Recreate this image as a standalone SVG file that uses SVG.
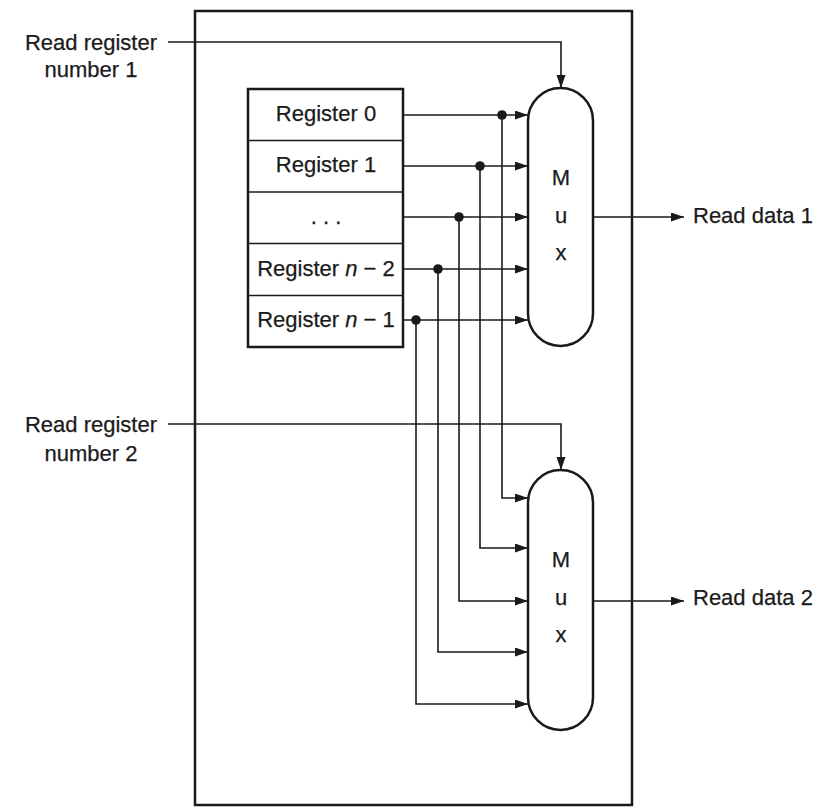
<svg xmlns="http://www.w3.org/2000/svg" width="833" height="807" viewBox="0 0 833 807">
<style>
text{font-family:"Liberation Sans",Arial,sans-serif;font-size:22px;fill:#1a1a1a;stroke:#1a1a1a;stroke-width:0.25}
.c{text-anchor:middle}
.box{fill:#fff;stroke:#1a1a1a;stroke-width:2.5}
.w{fill:none;stroke:#1a1a1a;stroke-width:1.6}
.a{marker-end:url(#ah)}
.dot{fill:#1a1a1a}
</style>
<defs>
<marker id="ah" markerUnits="userSpaceOnUse" markerWidth="14" markerHeight="10" refX="13" refY="4.5" orient="auto">
<path d="M0,0 L13,4.5 L0,9 z" fill="#1a1a1a"/>
</marker>
</defs>
<rect width="833" height="807" fill="#fff"/>
<g id="regfile">
<rect x="195" y="11" width="437" height="794" fill="none" stroke="#1a1a1a" stroke-width="2.5"/>
</g>
<g id="registers">
<rect class="box" x="248" y="89" width="155" height="258"/>
<line class="w" x1="248" y1="140.5" x2="403" y2="140.5" stroke-width="2.5"/>
<line class="w" x1="248" y1="192" x2="403" y2="192" stroke-width="2.5"/>
<line class="w" x1="248" y1="243.5" x2="403" y2="243.5" stroke-width="2.5"/>
<line class="w" x1="248" y1="295.5" x2="403" y2="295.5" stroke-width="2.5"/>
<text class="c" x="326" y="121">Register 0</text>
<text class="c" x="326" y="172">Register 1</text>
<text class="c" x="326" y="224" font-size="15" stroke-width="0">. . .</text>
<text class="c" x="326" y="276">Register <tspan font-style="italic">n</tspan> − 2</text>
<text class="c" x="326" y="327">Register <tspan font-style="italic">n</tspan> − 1</text>
</g>
<g id="mux1">
<rect class="box" x="528" y="88" width="65" height="258" rx="32.5" ry="32.5"/>
<text class="c" x="561" y="185" font-size="20">M</text>
<text class="c" x="561" y="223" font-size="20">u</text>
<text class="c" x="561" y="260" font-size="20">x</text>
</g>
<g id="mux2">
<rect class="box" x="528" y="470" width="65" height="260" rx="32.5" ry="32.5"/>
<text class="c" x="561" y="567" font-size="20">M</text>
<text class="c" x="561" y="605" font-size="20">u</text>
<text class="c" x="561" y="642" font-size="20">x</text>
</g>
<g id="labels">
<text class="c" x="91" y="50">Read register</text>
<text class="c" x="91" y="77">number 1</text>
<text class="c" x="91" y="432">Read register</text>
<text class="c" x="91" y="461">number 2</text>
<text x="693" y="223">Read data 1</text>
<text x="693" y="605">Read data 2</text>
</g>
<g id="connectors">
<polyline class="w a" points="168,42 561,42 561,88"/>
<polyline class="w a" points="168,424 561,424 561,470"/>
<line class="w a" x1="404" y1="115" x2="528" y2="115"/>
<line class="w a" x1="404" y1="166" x2="528" y2="166"/>
<line class="w a" x1="404" y1="217" x2="528" y2="217"/>
<line class="w a" x1="404" y1="269" x2="528" y2="269"/>
<line class="w a" x1="404" y1="320" x2="528" y2="320"/>
<polyline class="w a" points="502,115 502,498 528,498"/>
<polyline class="w a" points="480,166 480,548 528,548"/>
<polyline class="w a" points="459,217 459,601 528,601"/>
<polyline class="w a" points="438,269 438,652 528,652"/>
<polyline class="w a" points="416,320 416,704 528,704"/>
<line class="w a" x1="593" y1="217" x2="684" y2="217"/>
<line class="w a" x1="593" y1="601" x2="684" y2="601"/>
<circle class="dot" cx="502" cy="115" r="4.8"/>
<circle class="dot" cx="480" cy="166" r="4.8"/>
<circle class="dot" cx="459" cy="217" r="4.8"/>
<circle class="dot" cx="438" cy="269" r="4.8"/>
<circle class="dot" cx="416" cy="320" r="4.8"/>
</g>
</svg>
